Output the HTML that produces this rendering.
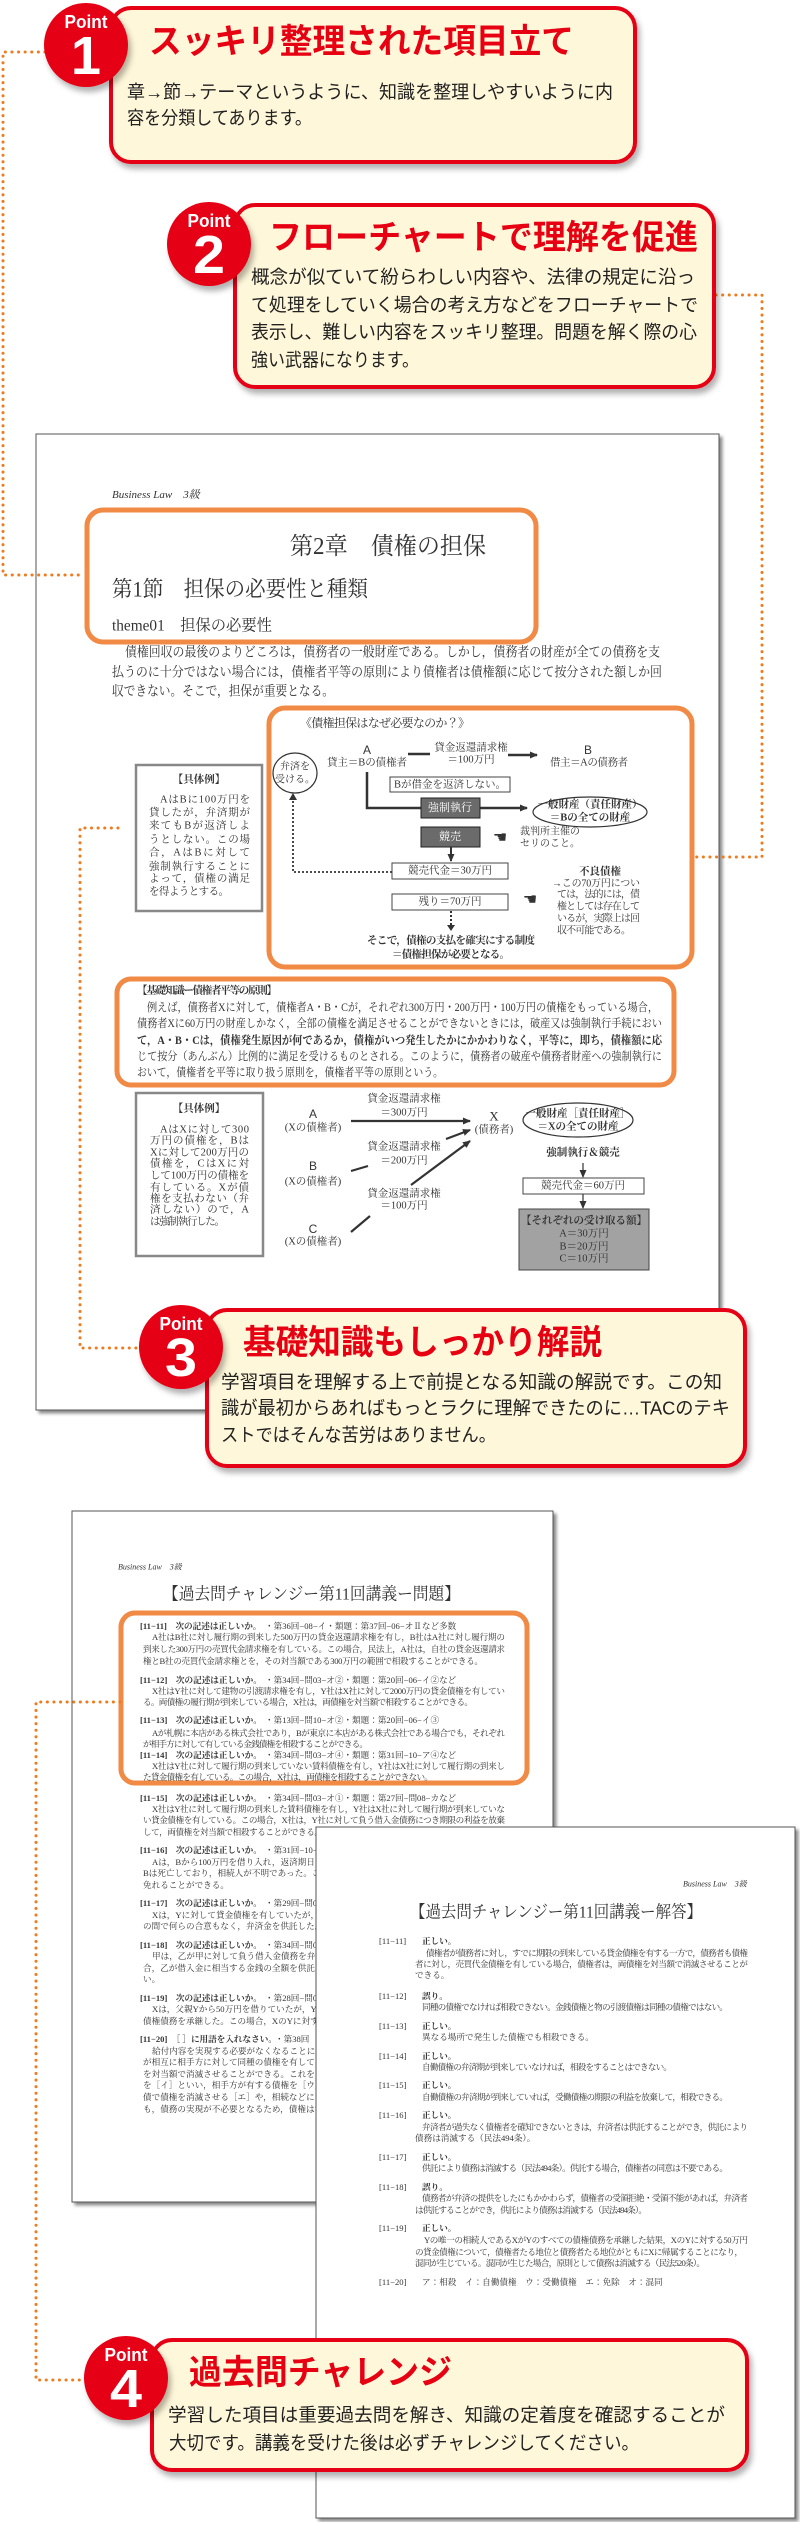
<!DOCTYPE html>
<html><head><meta charset="utf-8">
<style>
html,body{margin:0;padding:0;background:#fff;width:800px;height:2522px;overflow:hidden}
svg{display:block}
.g{font-family:"Liberation Sans","Noto Sans CJK JP",sans-serif}
.s{font-family:"Liberation Serif","Noto Serif CJK JP","Noto Sans CJK JP",serif}
.t{font-family:"Liberation Sans","Noto Sans CJK JP",sans-serif;font-weight:bold;fill:#e60012;font-size:34px}
.b{font-family:"Liberation Sans","Noto Sans CJK JP",sans-serif;fill:#222;font-size:18.5px}
.pg{font-family:"Liberation Serif","Noto Serif CJK JP","Noto Sans CJK JP",serif;fill:#333}
.sm{font-size:8.6px}
.dg{font-size:10.5px}
</style></head><body>
<svg width="800" height="2522" viewBox="0 0 800 2522" xmlns="http://www.w3.org/2000/svg" dominant-baseline="central">
<defs>
<filter id="sh" x="-10%" y="-10%" width="125%" height="130%"><feDropShadow dx="3" dy="5" stdDeviation="3" flood-color="#000" flood-opacity="0.3"/></filter>
<filter id="ps" x="-5%" y="-5%" width="110%" height="110%"><feDropShadow dx="3" dy="3" stdDeviation="1.5" flood-color="#000" flood-opacity="0.45"/></filter>
<marker id="ar" markerWidth="8" markerHeight="8" refX="7" refY="4" orient="auto" markerUnits="userSpaceOnUse"><path d="M0,0.5 L8,4 L0,7.5 Z" fill="#333"/></marker>
</defs>

<!-- PAGE 1 -->
<rect x="36" y="434" width="683" height="976" fill="#fff" stroke="#555" stroke-width="1" filter="url(#ps)"/>
<text x="112" y="495" class="pg" font-size="11" font-style="italic">Business Law　3級</text>
<rect x="87" y="510" width="449" height="132" rx="16" fill="none" stroke="#f08a45" stroke-width="5"/>
<text x="290" y="547" class="pg" font-size="24" fill="#222" textLength="196" lengthAdjust="spacingAndGlyphs">第2章　債権の担保</text>
<text x="112" y="589" class="pg" font-size="22" fill="#222" textLength="256" lengthAdjust="spacingAndGlyphs">第1節　担保の必要性と種類</text>
<text x="112" y="626" class="pg" font-size="16" fill="#222" textLength="160" lengthAdjust="spacingAndGlyphs">theme01　担保の必要性</text>
<text x="125" y="652" class="pg" font-size="13.5" textLength="535" lengthAdjust="spacingAndGlyphs">債権回収の最後のよりどころは，債務者の一般財産である。しかし，債務者の財産が全ての債務を支</text>
<text x="112" y="672" class="pg" font-size="13.5" textLength="550" lengthAdjust="spacingAndGlyphs">払うのに十分ではない場合には，債権者平等の原則により債権者は債権額に応じて按分された額しか回</text>
<text x="112" y="691" class="pg" font-size="13.5" textLength="222" lengthAdjust="spacingAndGlyphs">収できない。そこで，担保が重要となる。</text>

<!-- diagram 1 -->
<rect x="269" y="708" width="423" height="259" rx="16" fill="none" stroke="#f08a45" stroke-width="5"/>
<rect x="136" y="765" width="126" height="146" fill="#fff" stroke="#888" stroke-width="2.5"/>
<g class="pg dg" font-size="10.5">
<text x="199" y="780" text-anchor="middle" font-weight="bold">【具体例】</text>
<text x="160" y="800" textLength="90">AはBに100万円を</text>
<text x="149" y="813" textLength="101">貸したが，弁済期が</text>
<text x="149" y="826" textLength="101">来てもBが返済しよ</text>
<text x="149" y="840" textLength="101">うとしない。この場</text>
<text x="149" y="853" textLength="101">合，AはBに対して</text>
<text x="149" y="867" textLength="101">強制執行することに</text>
<text x="149" y="879" textLength="101">よって，債権の満足</text>
<text x="149" y="892" textLength="80">を得ようとする。</text>
</g>
<g class="pg" font-size="11">
<text x="300" y="723" textLength="170" font-size="12">《債権担保はなぜ必要なのか？》</text>
<ellipse cx="295" cy="773" rx="22" ry="20" fill="#fff" stroke="#333" stroke-width="1.2"/>
<text x="295" y="767" text-anchor="middle" font-size="10">弁済を</text>
<text x="295" y="780" text-anchor="middle" font-size="10">受ける。</text>
<text x="367" y="750" text-anchor="middle" class="g" font-size="12">A</text>
<text x="327" y="763" textLength="80" font-size="10.5">貸主＝Bの債権者</text>
<line x1="408" y1="754" x2="430" y2="754" stroke="#333" stroke-width="2.5"/>
<text x="471" y="748" text-anchor="middle" font-size="10.5">貸金返還請求権</text>
<text x="471" y="760" text-anchor="middle" font-size="10.5">＝100万円</text>
<line x1="508" y1="755" x2="537" y2="755" stroke="#333" stroke-width="2.5" marker-end="url(#ar)"/>
<text x="588" y="750" text-anchor="middle" class="g" font-size="12">B</text>
<text x="550" y="763" textLength="78" font-size="10.5">借主＝Aの債務者</text>
<rect x="390" y="777" width="120" height="15" fill="#fff" stroke="#444"/>
<text x="450" y="785" text-anchor="middle" font-size="10.5">Bが借金を返済しない。</text>
<polyline points="367,772 367,808 527,808" fill="none" stroke="#333" stroke-width="2.5" marker-end="url(#ar)"/>
<rect x="421" y="798" width="59" height="20" fill="#6b6b6b" stroke="#222"/>
<text x="450" y="808" text-anchor="middle" fill="#fff" font-size="11">強制執行</text>
<ellipse cx="590" cy="812" rx="57" ry="15" fill="#fff" stroke="#333" stroke-width="1.2"/>
<text x="590" y="805" text-anchor="middle" font-size="10.5" font-weight="bold">一般財産（責任財産）</text>
<text x="590" y="818" text-anchor="middle" font-size="10.5" font-weight="bold">＝Bの全ての財産</text>
<rect x="421" y="827" width="59" height="20" fill="#6b6b6b" stroke="#222"/>
<text x="450" y="837" text-anchor="middle" fill="#fff" font-size="11">競売</text>
<text x="500" y="838" text-anchor="middle" font-size="16" fill="#333">☚</text>
<text x="520" y="832" font-size="10">裁判所主催の</text>
<text x="520" y="844" font-size="10">セリのこと。</text>
<line x1="451" y1="847" x2="451" y2="861" stroke="#333" stroke-width="2" marker-end="url(#ar)"/>
<rect x="392" y="863" width="116" height="16" fill="#fff" stroke="#444"/>
<text x="450" y="871" text-anchor="middle" font-size="10.5">競売代金＝30万円</text>
<polyline points="392,872 293,872 293,797" fill="none" stroke="#333" stroke-width="1.8" stroke-dasharray="2 2"/>
<path d="M289,800 L293,793 L297,800 Z" fill="#333"/>
<text x="600" y="872" text-anchor="middle" font-size="10.5" font-weight="bold">不良債権</text>
<text x="552" y="884" font-size="10" textLength="88">→この70万円につい</text>
<text x="557" y="895" font-size="10" textLength="83">ては，法的には，債</text>
<text x="557" y="907" font-size="10" textLength="83">権としては存在して</text>
<text x="557" y="919" font-size="10" textLength="83">いるが，実際上は回</text>
<text x="557" y="931" font-size="10" textLength="74">収不可能である。</text>
<rect x="392" y="894" width="116" height="16" fill="#fff" stroke="#444"/>
<text x="450" y="902" text-anchor="middle" font-size="10.5">残り＝70万円</text>
<text x="530" y="900" text-anchor="middle" font-size="16" fill="#333">☚</text>
<line x1="451" y1="911" x2="451" y2="926" stroke="#333" stroke-width="2" stroke-dasharray="2 2"/>
<path d="M447,925 L451,931 L455,925 Z" fill="#333"/>
<text x="367" y="941" textLength="168" font-size="10.5" font-weight="bold">そこで，債権の支払を確実にする制度</text>
<text x="392" y="955" textLength="118" font-size="10.5" font-weight="bold">＝債権担保が必要となる。</text>
</g>

<!-- box 3 -->
<rect x="117" y="979" width="557" height="106" rx="14" fill="none" stroke="#f08a45" stroke-width="5"/>
<g class="pg" font-size="11.5">
<text x="137" y="991" textLength="140" font-weight="bold" font-size="10.5">【基礎知識ー債権者平等の原則】</text>
<text x="147" y="1008" textLength="511" lengthAdjust="spacingAndGlyphs">例えば，債務者Xに対して，債権者A・B・Cが，それぞれ300万円・200万円・100万円の債権をもっている場合，</text>
<text x="137" y="1024" textLength="525" lengthAdjust="spacingAndGlyphs">債務者Xに60万円の財産しかなく，全部の債権を満足させることができないときには，破産又は強制執行手続におい</text>
<text x="137" y="1041" textLength="525" lengthAdjust="spacingAndGlyphs" font-weight="bold">て，A・B・Cは，債権発生原因が何であるか，債権がいつ発生したかにかかわりなく，平等に，即ち，債権額に応</text>
<text x="137" y="1057" textLength="525" lengthAdjust="spacingAndGlyphs">じて按分（あんぶん）比例的に満足を受けるものとされる。このように，債務者の破産や債務者財産への強制執行に</text>
<text x="137" y="1073" textLength="306" lengthAdjust="spacingAndGlyphs">おいて，債権者を平等に取り扱う原則を，債権者平等の原則という。</text>
</g>

<!-- diagram 2 -->
<rect x="136" y="1093" width="127" height="163" fill="#fff" stroke="#888" stroke-width="2.5"/>
<g class="pg" font-size="10.5">
<text x="199" y="1109" text-anchor="middle" font-weight="bold">【具体例】</text>
<text x="160" y="1130" textLength="89">AはXに対して300</text>
<text x="150" y="1141" textLength="99">万円の債権を，Bは</text>
<text x="150" y="1153" textLength="99">Xに対して200万円の</text>
<text x="150" y="1164" textLength="99">債権を，CはXに対</text>
<text x="150" y="1176" textLength="99">して100万円の債権を</text>
<text x="150" y="1188" textLength="99">有している。Xが債</text>
<text x="150" y="1199" textLength="99">権を支払わない（弁</text>
<text x="150" y="1210" textLength="99">済しない）ので，A</text>
<text x="150" y="1222" textLength="75">は強制執行した。</text>

<text x="313" y="1114" text-anchor="middle" class="g" font-size="12">A</text>
<text x="313" y="1128" text-anchor="middle">(Xの債権者)</text>
<text x="404" y="1099" text-anchor="middle">貸金返還請求権</text>
<text x="404" y="1113" text-anchor="middle">＝300万円</text>
<line x1="351" y1="1121" x2="470" y2="1121" stroke="#333" stroke-width="2.2" marker-end="url(#ar)"/>
<text x="494" y="1116" text-anchor="middle" font-size="13">X</text>
<text x="494" y="1130" text-anchor="middle">(債務者)</text>
<text x="313" y="1166" text-anchor="middle" class="g" font-size="12">B</text>
<text x="313" y="1182" text-anchor="middle">(Xの債権者)</text>
<text x="404" y="1147" text-anchor="middle">貸金返還請求権</text>
<text x="404" y="1161" text-anchor="middle">＝200万円</text>
<line x1="351" y1="1171" x2="368" y2="1166" stroke="#333" stroke-width="2.2"/>
<line x1="446" y1="1139" x2="470" y2="1130" stroke="#333" stroke-width="2.2" marker-end="url(#ar)"/>
<text x="313" y="1229" text-anchor="middle" class="g" font-size="12">C</text>
<text x="313" y="1242" text-anchor="middle">(Xの債権者)</text>
<text x="404" y="1194" text-anchor="middle">貸金返還請求権</text>
<text x="404" y="1206" text-anchor="middle">＝100万円</text>
<line x1="351" y1="1232" x2="370" y2="1216" stroke="#333" stroke-width="2.2"/>
<line x1="411" y1="1185" x2="470" y2="1141" stroke="#333" stroke-width="2.2" marker-end="url(#ar)"/>
<ellipse cx="578" cy="1120" rx="55" ry="17" fill="#fff" stroke="#333" stroke-width="1.2"/>
<text x="578" y="1114" text-anchor="middle" font-weight="bold">一般財産［責任財産］</text>
<text x="578" y="1127" text-anchor="middle" font-weight="bold">＝Xの全ての財産</text>
<text x="583" y="1153" text-anchor="middle" font-weight="bold">強制執行＆競売</text>
<line x1="583" y1="1163" x2="583" y2="1177" stroke="#333" stroke-width="1.2" marker-end="url(#ar)"/>
<rect x="523" y="1178" width="121" height="16" fill="#fff" stroke="#444"/>
<text x="583" y="1186" text-anchor="middle">競売代金＝60万円</text>
<line x1="583" y1="1194" x2="583" y2="1208" stroke="#333" stroke-width="1.2" marker-end="url(#ar)"/>
<rect x="519" y="1209" width="130" height="61" fill="#a2a2a2" stroke="#444"/>
<text x="584" y="1221" text-anchor="middle" font-weight="bold">【それぞれの受け取る額】</text>
<text x="584" y="1234" text-anchor="middle">A＝30万円</text>
<text x="584" y="1247" text-anchor="middle">B＝20万円</text>
<text x="584" y="1259" text-anchor="middle">C＝10万円</text>
</g>

<!-- PAGE 2 -->
<rect x="72" y="1511" width="481" height="691" fill="#fff" stroke="#555" stroke-width="1" filter="url(#ps)"/>
<text x="118" y="1567" class="pg" font-size="8" font-style="italic">Business Law　3級</text>
<text x="163" y="1594" class="pg" font-size="17" fill="#222" textLength="297" lengthAdjust="spacingAndGlyphs">【過去問チャレンジー第11回講義ー問題】</text>
<rect x="121" y="1613" width="406" height="170" rx="14" fill="none" stroke="#f08a45" stroke-width="5"/>
<g class="pg sm" font-size="8.6">
<text x="140" y="1626" font-weight="bold">[11−11]　次の記述は正しいか。</text><text x="265" y="1626">・第36回−08−イ・類題：第37回−06−オⅡなど多数</text>
<text x="152" y="1637" textLength="353">A社はB社に対し履行期の到来した500万円の貸金返還請求権を有し，B社はA社に対し履行期の</text>
<text x="143" y="1649" textLength="362">到来した300万円の売買代金請求権を有している。この場合，民法上，A社は，自社の貸金返還請求</text>
<text x="143" y="1661" textLength="340">権とB社の売買代金請求権とを，その対当額である300万円の範囲で相殺することができる。</text>
<text x="140" y="1680" font-weight="bold">[11−12]　次の記述は正しいか。</text><text x="265" y="1680">・第34回−問03−オ②・類題：第20回−06−イ②など</text>
<text x="152" y="1691" textLength="353">X社はY社に対して建物の引渡請求権を有し，Y社はX社に対して2000万円の貸金債権を有してい</text>
<text x="143" y="1702" textLength="330">る。両債権の履行期が到来している場合，X社は，両債権を対当額で相殺することができる。</text>
<text x="140" y="1720" font-weight="bold">[11−13]　次の記述は正しいか。</text><text x="265" y="1720">・第13回−問10−オ②・類題：第20回−06−イ③</text>
<text x="152" y="1733" textLength="353">Aが札幌に本店がある株式会社であり，Bが東京に本店がある株式会社である場合でも，それぞれ</text>
<text x="143" y="1744" textLength="225">が相手方に対して有している金銭債権を相殺することができる。</text>
<text x="140" y="1755" font-weight="bold">[11−14]　次の記述は正しいか。</text><text x="265" y="1755">・第34回−問03−オ④・類題：第31回−10−ア④など</text>
<text x="152" y="1766" textLength="353">X社はY社に対して履行期の到来していない賃料債権を有し，Y社はX社に対して履行期の到来し</text>
<text x="143" y="1777" textLength="290">た貸金債権を有している。この場合，X社は，両債権を相殺することができない。</text>
<text x="140" y="1798" font-weight="bold">[11−15]　次の記述は正しいか。</text><text x="265" y="1798">・第34回−問03−オ①・類題：第27回−問08−カなど</text>
<text x="152" y="1809" textLength="353">X社はY社に対して履行期の到来した賃料債権を有し，Y社はX社に対して履行期が到来していな</text>
<text x="143" y="1820" textLength="362">い貸金債権を有している。この場合，X社は，Y社に対して負う借入金債務につき期限の利益を放棄</text>
<text x="143" y="1832" textLength="180">して，両債権を対当額で相殺することができる。</text>
<text x="140" y="1850" font-weight="bold">[11−16]　次の記述は正しいか。</text><text x="265" y="1850">・第31回−10−ウ</text>
<text x="152" y="1862">Aは，Bから100万円を借り入れ，返済期日に</text>
<text x="143" y="1873">Bは死亡しており，相続人が不明であった。こ</text>
<text x="143" y="1885">免れることができる。</text>
<text x="140" y="1903" font-weight="bold">[11−17]　次の記述は正しいか。</text><text x="265" y="1903">・第29回−問08</text>
<text x="152" y="1915">Xは，Yに対して貸金債権を有していたが，そ</text>
<text x="143" y="1926">の間で何らの合意もなく，弁済金を供託した。こ</text>
<text x="140" y="1945" font-weight="bold">[11−18]　次の記述は正しいか。</text><text x="265" y="1945">・第34回−問08</text>
<text x="152" y="1956">甲は，乙が甲に対して負う借入金債務を弁済</text>
<text x="143" y="1968">合，乙が借入金に相当する金銭の全額を供託し</text>
<text x="143" y="1979">い。</text>
<text x="140" y="1998" font-weight="bold">[11−19]　次の記述は正しいか。</text><text x="265" y="1998">・第28回−問08</text>
<text x="152" y="2009">Xは，父親Yから50万円を借りていたが，Y</text>
<text x="143" y="2021">債権債務を承継した。この場合，XのYに対する</text>
<text x="140" y="2039" font-weight="bold">[11−20]　［ ］に用語を入れなさい。</text><text x="275" y="2039">・第38回</text>
<text x="152" y="2051">給付内容を実現する必要がなくなることによ</text>
<text x="143" y="2062">が相互に相手方に対して同種の債権を有してい</text>
<text x="143" y="2074">を対当額で消滅させることができる。これを［</text>
<text x="143" y="2085">を［イ］といい，相手方が有する債権を［ウ］と</text>
<text x="143" y="2097">債で債権を消滅させる［エ］や，相続などによ</text>
<text x="143" y="2109">も，債務の実現が不必要となるため，債権は消滅</text>
</g>

<!-- PAGE 3 -->
<rect x="316" y="1827" width="479" height="691" fill="#fff" stroke="#555" stroke-width="1" filter="url(#ps)"/>
<text x="683" y="1884" class="pg" font-size="8" font-style="italic">Business Law　3級</text>
<text x="410" y="1912" class="pg" font-size="17" fill="#222" textLength="292" lengthAdjust="spacingAndGlyphs">【過去問チャレンジー第11回講義ー解答】</text>
<g class="pg sm" font-size="8.6">
<text x="379" y="1941">[11−11]</text><text x="422" y="1941" font-weight="bold">正しい。</text>
<text x="426" y="1953" textLength="322">債権者が債務者に対し，すでに期限の到来している貸金債権を有する一方で，債務者も債権</text>
<text x="415" y="1964" textLength="333">者に対し，売買代金債権を有している場合，債権者は，両債権を対当額で消滅させることが</text>
<text x="415" y="1975">できる。</text>
<text x="379" y="1996">[11−12]</text><text x="422" y="1996" font-weight="bold">誤り。</text>
<text x="422" y="2007" textLength="306">同種の債権でなければ相殺できない。金銭債権と物の引渡債権は同種の債権ではない。</text>
<text x="379" y="2026">[11−13]</text><text x="422" y="2026" font-weight="bold">正しい。</text>
<text x="422" y="2037">異なる場所で発生した債権でも相殺できる。</text>
<text x="379" y="2056">[11−14]</text><text x="422" y="2056" font-weight="bold">正しい。</text>
<text x="422" y="2067" textLength="250">自働債権の弁済期が到来していなければ，相殺をすることはできない。</text>
<text x="379" y="2085">[11−15]</text><text x="422" y="2085" font-weight="bold">正しい。</text>
<text x="422" y="2097" textLength="306">自働債権の弁済期が到来していれば，受働債権の期限の利益を放棄して，相殺できる。</text>
<text x="379" y="2115">[11−16]</text><text x="422" y="2115" font-weight="bold">正しい。</text>
<text x="422" y="2127" textLength="326">弁済者が過失なく債権者を確知できないときは，弁済者は供託することができ，供託により</text>
<text x="415" y="2138">債務は消滅する（民法494条）。</text>
<text x="379" y="2157">[11−17]</text><text x="422" y="2157" font-weight="bold">正しい。</text>
<text x="422" y="2168" textLength="306">供託により債務は消滅する（民法494条）。供託する場合，債権者の同意は不要である。</text>
<text x="379" y="2187">[11−18]</text><text x="422" y="2187" font-weight="bold">誤り。</text>
<text x="422" y="2198" textLength="326">債務者が弁済の提供をしたにもかかわらず，債権者の受領拒絶・受領不能があれば，弁済者</text>
<text x="415" y="2210" textLength="232">は供託することができ，供託により債務は消滅する（民法494条）。</text>
<text x="379" y="2228">[11−19]</text><text x="422" y="2228" font-weight="bold">正しい。</text>
<text x="424" y="2240" textLength="324">Yの唯一の相続人であるXがYのすべての債権債務を承継した結果，XのYに対する50万円</text>
<text x="415" y="2252" textLength="328">の貸金債権について，債権者たる地位と債務者たる地位がともにXに帰属することになり，</text>
<text x="415" y="2263" textLength="290">混同が生じている。混同が生じた場合，原則として債務は消滅する（民法520条）。</text>
<text x="379" y="2282">[11−20]</text><text x="422" y="2282">ア：相殺　イ：自働債権　ウ：受働債権　エ：免除　オ：混同</text>
</g>

<!-- DOTTED CONNECTORS -->
<g fill="none" stroke="#f07a1e" stroke-width="3" stroke-linecap="round" stroke-dasharray="0.1 6.5">
<polyline points="45,52 3,52 3,575 84,575"/>
<polyline points="716,295 762,295 762,857 695,857"/>
<polyline points="118,828 80,828 80,1348 139,1348"/>
<polyline points="120,1702 36,1702 36,2380 85,2380"/>
</g>

<!-- POINT BOXES -->
<rect x="111" y="8" width="524" height="154" rx="20" fill="#fff7d9" stroke="#e60012" stroke-width="4" filter="url(#sh)"/>
<rect x="235" y="205" width="479" height="182" rx="20" fill="#fff7d9" stroke="#e60012" stroke-width="4" filter="url(#sh)"/>
<rect x="207" y="1310" width="538" height="156" rx="20" fill="#fff7d9" stroke="#e60012" stroke-width="4" filter="url(#sh)"/>
<rect x="152" y="2340" width="595" height="130" rx="20" fill="#fff7d9" stroke="#e60012" stroke-width="4" filter="url(#sh)"/>

<g fill="#e60012" filter="url(#sh)">
<circle cx="86" cy="45" r="42"/>
<circle cx="209" cy="244" r="42"/>
<circle cx="181" cy="1347" r="42"/>
<circle cx="126" cy="2378" r="42"/>
</g>
<g class="g" fill="#fff" font-weight="bold" text-anchor="middle">
<text x="86" y="22" font-size="18" textLength="43" lengthAdjust="spacingAndGlyphs">Point</text>
<text x="86" y="56" font-size="54" textLength="30" lengthAdjust="spacingAndGlyphs">1</text>
<text x="209" y="221" font-size="18" textLength="43" lengthAdjust="spacingAndGlyphs">Point</text>
<text x="209" y="255" font-size="54" textLength="32" lengthAdjust="spacingAndGlyphs">2</text>
<text x="181" y="1324" font-size="18" textLength="43" lengthAdjust="spacingAndGlyphs">Point</text>
<text x="181" y="1358" font-size="54" textLength="32" lengthAdjust="spacingAndGlyphs">3</text>
<text x="126" y="2355" font-size="18" textLength="43" lengthAdjust="spacingAndGlyphs">Point</text>
<text x="126" y="2389" font-size="54" textLength="32" lengthAdjust="spacingAndGlyphs">4</text>
</g>

<text x="149" y="42" class="t" textLength="425" lengthAdjust="spacingAndGlyphs">スッキリ整理された項目立て</text>
<text x="127" y="92" class="b" textLength="486" lengthAdjust="spacingAndGlyphs">章→節→テーマというように、知識を整理しやすいように内</text>
<text x="127" y="118" class="b" textLength="185" lengthAdjust="spacingAndGlyphs">容を分類してあります。</text>

<text x="269" y="238" class="t" textLength="429" lengthAdjust="spacingAndGlyphs">フローチャートで理解を促進</text>
<text x="251" y="277" class="b" textLength="444" lengthAdjust="spacingAndGlyphs">概念が似ていて紛らわしい内容や、法律の規定に沿っ</text>
<text x="251" y="305" class="b" textLength="447" lengthAdjust="spacingAndGlyphs">て処理をしていく場合の考え方などをフローチャートで</text>
<text x="251" y="332" class="b" textLength="446" lengthAdjust="spacingAndGlyphs">表示し、難しい内容をスッキリ整理。問題を解く際の心</text>
<text x="251" y="360" class="b" textLength="168" lengthAdjust="spacingAndGlyphs">強い武器になります。</text>

<text x="243" y="1343" class="t" textLength="359" lengthAdjust="spacingAndGlyphs">基礎知識もしっかり解説</text>
<text x="221" y="1382" class="b" textLength="501" lengthAdjust="spacingAndGlyphs">学習項目を理解する上で前提となる知識の解説です。この知</text>
<text x="221" y="1408" class="b" textLength="509" lengthAdjust="spacingAndGlyphs">識が最初からあればもっとラクに理解できたのに…TACのテキ</text>
<text x="221" y="1435" class="b" textLength="275" lengthAdjust="spacingAndGlyphs">ストではそんな苦労はありません。</text>

<text x="189" y="2373" class="t" textLength="263" lengthAdjust="spacingAndGlyphs">過去問チャレンジ</text>
<text x="168" y="2415" class="b" textLength="557" lengthAdjust="spacingAndGlyphs">学習した項目は重要過去問を解き、知識の定着度を確認することが</text>
<text x="169" y="2443" class="b" textLength="470" lengthAdjust="spacingAndGlyphs">大切です。講義を受けた後は必ずチャレンジしてください。</text>
</svg>
</body></html>
